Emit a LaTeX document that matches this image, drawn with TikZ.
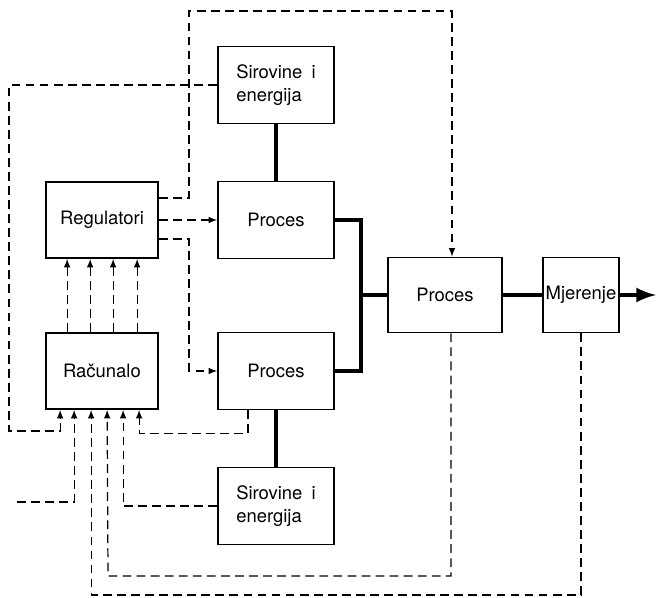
\documentclass[tikz,border=0pt]{standalone}
\usepackage{fontspec}
\setmainfont{TeX Gyre Heros}
\usetikzlibrary{calc,arrows}

\begin{document}
\begin{tikzpicture}[x=0.02cm,y=-0.02cm,
  blok/.style={draw,line width=1pt,minimum width=2.32cm,minimum height=1.54cm,font=\fontsize{10.5}{13}\selectfont},
  tok/.style={line width=2.8pt},
  sig/.style={line width=0.7pt,dash pattern=on 5pt off 3pt}]

  \useasboundingbox (0,0) rectangle (656,598);

  \node (s1) [blok,align=left] at (276,85) {Sirovine\enspace i\\energija};
  \node (p1) [blok] at (276,220) {Proces};
  \node (p2) [blok] at (276,371) {Proces};
  \node (s2) [blok,align=left] at (276,506) {Sirovine\enspace i\\energija};
  \node (reg) [blok,minimum width=2.24cm,minimum height=1.52cm] at (102,220) {Regulatori};
  \node (rac) [blok,minimum width=2.24cm,minimum height=1.52cm] at (102,371) {Računalo};
  \node (p3) [blok,minimum width=2.28cm,minimum height=1.5cm] at (445,295) {Proces};
  \node (mj) [blok,minimum width=1.52cm,minimum height=1.5cm,inner sep=1pt] at (581,295) {Mjerenje};

  \coordinate (jn) at (361,295);
  \coordinate (out) at (656,295);
  \coordinate (ext) at (17,502);

  % tok materijala
  \draw[tok] (s1.south) -- (p1.north);
  \draw[tok] (p2.south) -- (s2.north);
  \draw[tok] (p1.east) -| (jn) |- (p2.east);
  \draw[tok] (jn) -- (p3.west);
  \draw[tok] (p3.east) -- (mj.west);
  \draw[tok,-latex] (mj.east) -- (out);

  % signali regulatora
  \draw[sig,-latex] ($(reg.east)+(0,-22)$) -- (189,198) |- (452,11) -- ($(p3.north)+(7,0)$);
  \draw[sig,-latex] (reg.east) -- (p1.west);
  \draw[sig,-latex] ($(reg.east)+(0,19)$) -- (189,239) |- (p2.west);

  \foreach \dx in {22,45,68,92}
    \draw[sig,-latex] ($(rac.north west)+(\dx,0)$) -- ($(reg.south west)+(\dx,0)$);

  % mjerni signali prema racunalu
  \draw[sig,-latex] (s1.west) -| (9,431) -| ($(rac.south west)+(15,0)$);
  \draw[sig,-latex] (ext) -| ($(rac.south west)+(29,0)$);
  \draw[sig,-latex] (mj.south) -- (581,595) -| ($(rac.south west)+(46,0)$);
  \draw[sig,-latex] ($(p3.south)+(6,0)$) |- (108,576) -- ($(rac.south west)+(62,0)$);
  \draw[sig,-latex] (s2.west) -| ($(rac.south west)+(78,0)$);
  \draw[sig,-latex] ($(p2.south)+(-28,0)$) -- ++(0,23) -| ($(rac.south west)+(94,0)$);

\end{tikzpicture}
\end{document}
